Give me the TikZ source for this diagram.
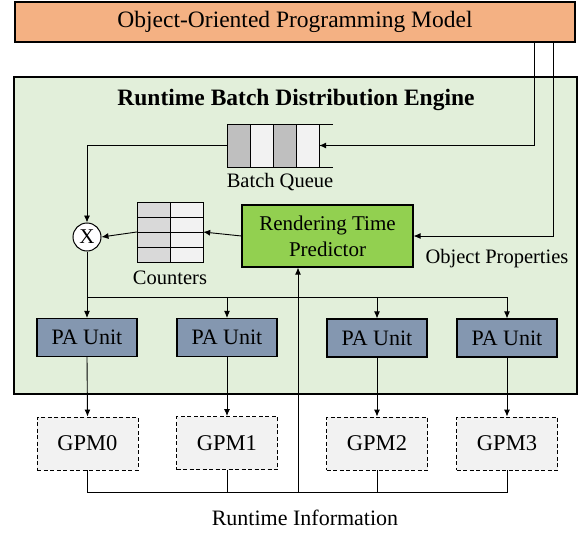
\documentclass[tikz,border=0pt]{standalone}
\usepackage{fontspec}
\setmainfont{Liberation Serif}
\usetikzlibrary{arrows.meta}
\definecolor{orangebox}{HTML}{F4B183}
\definecolor{enginebg}{HTML}{E2EFDA}
\definecolor{predgreen}{HTML}{92D050}
\definecolor{paunit}{HTML}{8497B0}
\definecolor{lightcell}{HTML}{F2F2F2}
\definecolor{darkcell}{HTML}{BFBFBF}
\definecolor{midcell}{HTML}{D9D9D9}
\tikzset{
  box/.style={draw=black, line width=1.1pt, inner sep=0pt, align=center},
  pabox/.style={box, fill=paunit, minimum width=100pt, minimum height=38pt, font=\fontsize{22}{26}\selectfont},
  gpmbox/.style={draw=black, line width=0.9pt, dashed, dash pattern=on 4pt off 2.5pt, fill=lightcell, minimum width=101pt, minimum height=53pt, inner sep=0pt, font=\fontsize{22.5}{26}\selectfont},
  lbl/.style={inner sep=0pt, font=\fontsize{20.5}{24}\selectfont},
  conn/.style={line width=0.9pt, -{Latex[length=7pt,width=6pt]}},
  wire/.style={line width=0.9pt},
}
\begin{document}
\begin{tikzpicture}[x=1pt,y=-1pt]
\useasboundingbox (0,0) rectangle (584,535);
% top box
\node[box, fill=orangebox, minimum width=560pt, minimum height=40pt, font=\fontsize{23.5}{28}\selectfont] (top) at (295,22) {Object-Oriented Programming Model};
% engine
\node[draw=black, line width=1.1pt, fill=enginebg, minimum width=563pt, minimum height=317pt, inner sep=0pt] (engine) at (295.5,235.5) {};
\node[inner sep=0pt, font=\fontsize{23.5}{28}\selectfont\bfseries] (title) at (296,100) {Runtime Batch Distribution Engine};
% batch queue
\node[minimum width=92pt, minimum height=43pt, inner sep=0pt] (queue) at (273,145.5) {};
\fill[darkcell] (227,124) rectangle (250,167);
\fill[lightcell] (250,124) rectangle (273,167);
\fill[darkcell] (273,124) rectangle (296,167);
\fill[lightcell] (296,124) rectangle (319,167);
\draw[line width=1pt] (333,124) -- (227,124) -- (227,167) -- (333,167);
\foreach \xx in {250,273,296,319} \draw[line width=1pt] (\xx,124) -- (\xx,167);
\node[lbl] (qlabel) at (280,182) {Batch Queue};
% counters
\node[minimum width=66pt, minimum height=60pt, inner sep=0pt] (counters) at (170,232) {};
\fill[midcell] (137,202) rectangle (170,262);
\fill[lightcell] (170,202) rectangle (203,262);
\draw[line width=1pt] (137,202) rectangle (203,262);
\draw[line width=1pt] (170,202) -- (170,262);
\foreach \yy in {217,232,247} \draw[line width=1pt] (137,\yy) -- (203,\yy);
\node[lbl] (clabel) at (170,278) {Counters};
% predictor
\node[box, fill=predgreen, minimum width=171pt, minimum height=62pt, font=\fontsize{21}{26}\selectfont] (pred) at (327.5,236) {Rendering Time\\Predictor};
\node[lbl] (oplabel) at (497,259) {Object Properties};
% X circle
\node[circle, draw=black, line width=1pt, fill=white, minimum size=28pt, inner sep=0pt, font=\fontsize{21}{24}\selectfont] (X) at (87,237) {X};
% PA units
\node[pabox] (pa0) at (87,337.5) {PA Unit};
\node[pabox] (pa1) at (227,337.5) {PA Unit};
\node[pabox] (pa2) at (377,338) {PA Unit};
\node[pabox] (pa3) at (507,338) {PA Unit};
% GPMs
\node[gpmbox] (g0) at (87.5,443.5) {GPM0};
\node[gpmbox] (g1) at (227,443) {GPM1};
\node[gpmbox] (g2) at (377,443.5) {GPM2};
\node[gpmbox] (g3) at (507,443.5) {GPM3};
\node[inner sep=0pt, font=\fontsize{22}{26}\selectfont] (rinfo) at (305,518) {Runtime Information};
% helper coordinates
\coordinate (c1) at (534,0);
\coordinate (c2) at (553,0);
\coordinate (dist) at (0,297);
\coordinate (bus) at (0,492);
\coordinate (busx) at (298,0);
% connectors from top
\draw[conn] (top.south -| c1) |- (queue.east);
\draw[conn] (top.south -| c2) |- (pred.east);
% queue to X
\draw[conn] (queue.west) -| (X.north);
\draw[conn] (pred.west) -- (counters.east);
\draw[conn] (counters.west) -- (X.east);
% distribution
\draw[wire] (X.south) |- (pa3.north |- dist);
\foreach \p in {pa0,pa1,pa2,pa3} \draw[conn] (\p.north |- dist) -- (\p.north);
\draw[conn] (pa0.south) -- (g0.north);
\draw[conn] (pa1.south) -- (g1.north);
\draw[conn] (pa2.south) -- (g2.north);
\draw[conn] (pa3.south) -- (g3.north);
% runtime bus
\draw[wire] (g0.south) |- (g3.south |- bus) -- (g3.south);
\draw[wire] (g1.south) -- (g1.south |- bus);
\draw[wire] (g2.south) -- (g2.south |- bus);
\draw[conn] (busx |- bus) -- (busx |- pred.south);
\end{tikzpicture}
\end{document}
